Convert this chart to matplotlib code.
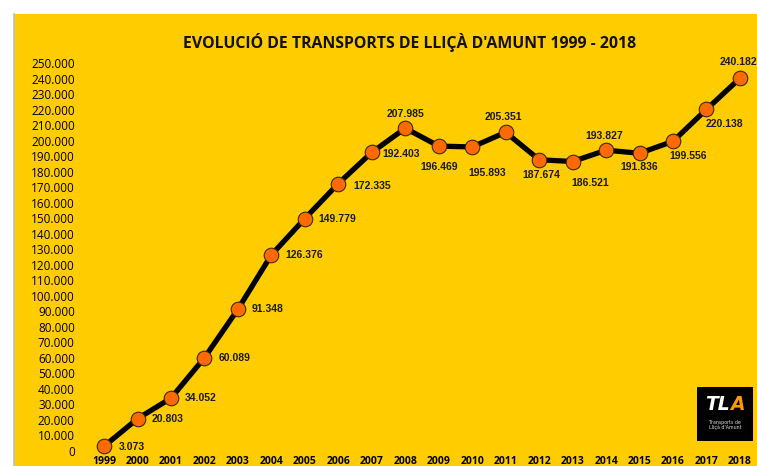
import matplotlib.pyplot as plt
from matplotlib.patches import Rectangle
from matplotlib.lines import Line2D

#%% Data
years = [str(y) for y in range(1999, 2019)]
passengers = [3073, 20803, 34052, 60089, 91348, 126376, 149779, 172335, 192403, 207985,
              196469, 195893, 205351, 187674, 186521, 193827, 191836, 199556, 220138, 240182]
labels = ['3.073', '20.803', '34.052', '60.089', '91.348', '126.376', '149.779', '172.335',
          '192.403', '207.985', '196.469', '195.893', '205.351', '187.674', '186.521',
          '193.827', '191.836', '199.556', '220.138', '240.182']
yticks = list(range(0, 250001, 10000))
ytick_labels = ['0'] + [f'{v // 1000}.000' for v in yticks[1:]]
title = "EVOLUCIÓ DE TRANSPORTS DE LLIÇÀ D'AMUNT 1999 - 2018"

# label placement (offset in pixels from the point, alignment)
label_pos = [(15, -1, 'left'), (14, 0, 'left'), (14, 0, 'left'), (14, 0, 'left'),
             (14, 0, 'left'), (14, 0, 'left'), (14, 0, 'left'), (15, -2, 'left'),
             (11, -2, 'left'), (0, 14, 'center'), (0, -21, 'center'), (15, -26, 'center'),
             (-2, 15, 'center'), (2, -15, 'center'), (18, -21, 'center'), (-2, 14, 'center'),
             (0, -14, 'center'), (15, -15, 'center'), (18, -15, 'center'), (-1, 16, 'center')]

YELLOW = '#FFCC00'
W, H = 757, 466

fig = plt.figure(figsize=(W / 100, H / 100), dpi=100, facecolor='white')

# yellow chart area with a grey left border
fig.patches.append(Rectangle((14 / W, 0), 1 - 14 / W, (H - 14) / H, transform=fig.transFigure,
                             facecolor=YELLOW, edgecolor='none', zorder=-10))
fig.lines.append(Line2D([14 / W, 14 / W], [0, (H - 14) / H], transform=fig.transFigure,
                        color='#BFBFBF', lw=1.2, zorder=-9))

ax = fig.add_axes([88 / W, 8 / H, 668 / W, 403 / H])
ax.set_zorder(2)
ax.set_facecolor('none')
x = list(range(len(years)))
ax.plot(x, passengers, color='black', lw=3.8, marker='o', markersize=10.5,
        markerfacecolor='#FF6A00', markeredgecolor='#3A2A00', markeredgewidth=0.8,
        clip_on=False, zorder=3)

for xi, yi, lab, (dx, dy, ha) in zip(x, passengers, labels, label_pos):
    ax.annotate(lab, (xi, yi), xytext=(dx, dy), textcoords='offset pixels',
                ha=ha, va='center', fontsize=7.5, fontweight='bold',
                family='Liberation Sans', color='#1A1A1A', annotation_clip=False)

ax.set_xlim(-0.48, 19.48)
ax.set_ylim(-4510, 255155)
ax.set_yticks(yticks)
ax.set_yticklabels(ytick_labels, family='Open Sans', fontsize=8.5)
ax.set_xticks(x)
ax.set_xticklabels(years, family='Open Sans', fontsize=7.5, fontweight='bold')
ax.tick_params(axis='y', length=0, pad=9.5)
ax.tick_params(axis='x', length=0, pad=-1.5)
for s in ax.spines.values():
    s.set_visible(False)

fig.text(410 / W, 1 - 42 / H, title, ha='center', va='center', family='Open Sans',
         fontsize=11.4, fontweight='bold', color='#111111')

# TLA logo
fig.patches.append(Rectangle((697 / W, 1 - 441 / H), 56 / W, 54 / H, transform=fig.transFigure,
                             facecolor='black', edgecolor='none', zorder=5))
fig.text(730 / W, 1 - 404 / H, 'TL', ha='right', va='center', color='white', fontsize=13.5,
         fontweight='bold', style='italic', family='DejaVu Sans', zorder=6)
fig.text(730 / W, 1 - 404 / H, 'A', ha='left', va='center', color='#FF9900', fontsize=13.5,
         fontweight='bold', style='italic', family='DejaVu Sans', zorder=6)
fig.text(725 / W, 1 - 425 / H, 'Transports de\nLliçà d\'Amunt', ha='center', va='center',
         color='#DDDDDD', fontsize=3.4, linespacing=1.0, family='DejaVu Sans', zorder=6)

fig.savefig('out.png', dpi=100, facecolor='white')
